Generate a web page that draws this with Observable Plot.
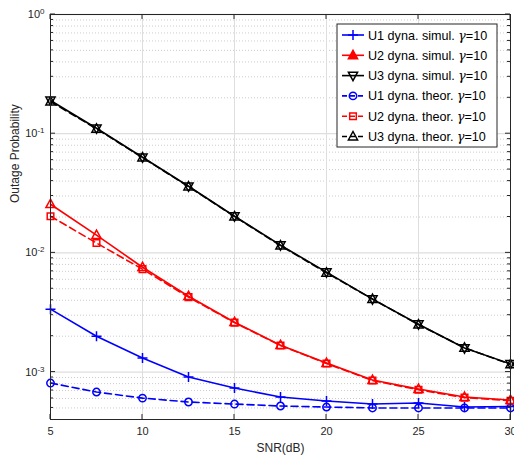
<!DOCTYPE html>
<html>
<head>
<meta charset="utf-8">
<script src="https://cdn.jsdelivr.net/npm/d3@7"></script>
<script src="https://cdn.jsdelivr.net/npm/@observablehq/plot@0.6"></script>
<style>
  html, body { margin: 0; padding: 0; background: #fff; }
  #chart svg { display: block; }
</style>
</head>
<body>
<div id="chart"></div>
<script>
// ---- data ----
const snr = [5, 7.5, 10, 12.5, 15, 17.5, 20, 22.5, 25, 27.5, 30];
const u1Simul = [0.00337, 0.00200, 0.00131, 0.000908, 0.000734, 0.000617, 0.000571, 0.000539, 0.00055, 0.000509, 0.000515];
const u2Simul = [0.0256, 0.0141, 0.00758, 0.00433, 0.00262, 0.00168, 0.00119, 0.000857, 0.000721, 0.000617, 0.000582];
const u3Simul = [0.190, 0.111, 0.0634, 0.0362, 0.0203, 0.0116, 0.00689, 0.00409, 0.00252, 0.00159, 0.00117];
const u1Theor = [0.000809, 0.000680, 0.000605, 0.000561, 0.000539, 0.000519, 0.000509, 0.000500, 0.000500, 0.000500, 0.000500];
const u2Theor = [0.0203, 0.0121, 0.00730, 0.00425, 0.00260, 0.00167, 0.00118, 0.00085, 0.00071, 0.00061, 0.000575];
const u3Theor = [0.186, 0.110, 0.0630, 0.0360, 0.0202, 0.0115, 0.0068, 0.0041, 0.0025, 0.0016, 0.00116];
const seriesNames = ["U1 dyna. simul. ", "U2 dyna. simul. ", "U3 dyna. simul. ", "U1 dyna. theor. ", "U2 dyna. theor. ", "U3 dyna. theor. "];
const legendSuffix = "=10";
const xTicks = [5, 10, 15, 20, 25, 30];
const yMajorTicks = [1e-3, 1e-2, 1e-1, 1];
const yDomain = [4e-4, 1];
const xLabel = "SNR(dB)";
const yLabel = "Outage Probability";

// ---- marker shapes ----
const rad = s => Math.sqrt(s / Math.PI);
const sym = {
  plus: {draw(c, s) { const r = rad(s); c.moveTo(-r, 0); c.lineTo(r, 0); c.moveTo(0, -r); c.lineTo(0, r); }},
  triUp: {draw(c, s) { const r = rad(s); c.moveTo(0, -r); c.lineTo(r * 0.92, r * 0.68); c.lineTo(-r * 0.92, r * 0.68); c.closePath(); }},
  triDown: {draw(c, s) { const r = rad(s); c.moveTo(0, r); c.lineTo(r * 0.92, -r * 0.68); c.lineTo(-r * 0.92, -r * 0.68); c.closePath(); }},
  circle: {draw(c, s) { const r = rad(s); c.moveTo(r, 0); c.arc(0, 0, r, 0, 2 * Math.PI); }},
  square: {draw(c, s) { const r = rad(s); c.moveTo(-r, -r); c.lineTo(r, -r); c.lineTo(r, r); c.lineTo(-r, r); c.closePath(); }}
};

const seriesValues = [u1Simul, u2Simul, u3Simul, u1Theor, u2Theor, u3Theor];
const styles = [
  {color: "#0000ff", dash: null, symbol: sym.plus, r: 5},
  {color: "#ff0000", dash: null, symbol: sym.triUp, r: 5},
  {color: "#000000", dash: null, symbol: sym.triDown, r: 5},
  {color: "#0000ff", dash: "7,4", symbol: sym.circle, r: 3.7},
  {color: "#ff0000", dash: "7,4", symbol: sym.square, r: 3.3},
  {color: "#000000", dash: "7,4", symbol: sym.triUp, r: 5}
];
const tables = seriesValues.map(vals => snr.map((x, i) => ({x, y: vals[i]})));

// minor grid values
const yMinor = [];
for (let e = -4; e <= -1; e++) for (let m = 2; m <= 9; m++) {
  const v = m * Math.pow(10, e);
  if (v > yDomain[0] * 1.0001 && v < yDomain[1]) yMinor.push(v);
}

const seriesMarks = [];
tables.forEach((t, i) => {
  const st = styles[i];
  seriesMarks.push(Plot.line(t, {x: "x", y: "y", stroke: st.color, strokeWidth: 1.6, strokeDasharray: st.dash}));
  seriesMarks.push(Plot.dot(t, {x: "x", y: "y", stroke: st.color, fill: "none", strokeWidth: 1.5, symbol: st.symbol, r: st.r}));
});

const chart = Plot.plot({
  width: 514, height: 457,
  marginLeft: 50, marginRight: 4, marginTop: 14, marginBottom: 38,
  style: {fontFamily: "'Liberation Sans', Arial, sans-serif", fontSize: "11px", color: "#262626", background: "#fff", overflow: "hidden"},
  x: {type: "linear", domain: [5, 30]},
  y: {type: "log", domain: yDomain},
  marks: [
    Plot.ruleY(yMinor, {stroke: "#bfbfbf", strokeDasharray: "1,2", strokeWidth: 0.8}),
    Plot.ruleY(yMajorTicks, {stroke: "#dedede", strokeWidth: 1.3}),
    Plot.ruleX(xTicks, {stroke: "#dedede", strokeWidth: 1}),
    Plot.axisX({ticks: xTicks, tickSize: 0, tickPadding: 8, label: null, fill: "#262626"}),
    Plot.axisY({ticks: yMajorTicks, tickSize: 0, tickPadding: 6, label: null, fill: "#262626",
      tickFormat: d => "10^" + Math.round(Math.log10(d))}),
    Plot.text([xLabel], {frameAnchor: "bottom", dy: 32, text: d => d, fill: "#262626", fontSize: 12}),
    Plot.text([yLabel], {frameAnchor: "left", dx: -35, dy: -14, rotate: -90, text: d => d, fill: "#262626", fontSize: 12}),
    ...seriesMarks,
    Plot.frame({stroke: "#262626", strokeWidth: 1})
  ]
});
document.getElementById("chart").appendChild(chart);

// ---- post-processing: superscript tick labels, inward ticks, legend ----
const svg = d3.select(chart);
svg.selectAll('g[aria-label="y-axis tick label"] text').each(function() {
  const t = d3.select(this);
  const s = t.text();
  const m = s.match(/^10\^(.*)$/);
  if (!m) return;
  t.text(null);
  t.append("tspan").text("10");
  t.append("tspan").attr("dy", "-0.5em").attr("font-size", "8px").text(m[1]);
});

const xs = chart.scale("x"), ys = chart.scale("y");
const X = v => xs.apply(v), Y = v => ys.apply(v);
const x0 = X(5), x1 = X(30), yTop = Y(yDomain[1]), yBot = Y(yDomain[0]);
const tg = svg.append("g").attr("stroke", "#262626").attr("stroke-width", 1);
yMajorTicks.forEach(v => {
  tg.append("line").attr("x1", x0).attr("x2", x0 + 5).attr("y1", Y(v)).attr("y2", Y(v));
  tg.append("line").attr("x1", x1).attr("x2", x1 - 5).attr("y1", Y(v)).attr("y2", Y(v));
});
yMinor.forEach(v => {
  tg.append("line").attr("x1", x0).attr("x2", x0 + 3).attr("y1", Y(v)).attr("y2", Y(v));
  tg.append("line").attr("x1", x1).attr("x2", x1 - 3).attr("y1", Y(v)).attr("y2", Y(v));
});
xTicks.forEach(v => {
  tg.append("line").attr("x1", X(v)).attr("x2", X(v)).attr("y1", yBot).attr("y2", yBot - 5);
  tg.append("line").attr("x1", X(v)).attr("x2", X(v)).attr("y1", yTop).attr("y2", yTop + 5);
});

// legend
const lgW = 160, lgH = 123;
const lgX = x1 - 13 - lgW, lgY = yTop + 10;
const lg = svg.append("g").attr("transform", `translate(${lgX},${lgY})`);
lg.append("rect").attr("width", lgW).attr("height", lgH).attr("fill", "#fff").attr("stroke", "#262626").attr("stroke-width", 1);
seriesNames.forEach((name, i) => {
  const st = styles[i];
  const ry = 11 + i * 20.3;
  const row = lg.append("g").attr("transform", `translate(0,${ry})`);
  row.append("line").attr("x1", 5).attr("x2", 27).attr("y1", 0).attr("y2", 0)
    .attr("stroke", st.color).attr("stroke-width", 1.6).attr("stroke-dasharray", st.dash ? "5,3" : null);
  row.append("path").attr("transform", "translate(16,0)")
    .attr("d", d3.symbol(st.symbol, st.r * st.r * Math.PI)())
    .attr("fill", i === 1 ? st.color : "none").attr("stroke", st.color).attr("stroke-width", 1.5);
  const tx = row.append("text").attr("x", 31).attr("y", 0).attr("dy", "0.36em")
    .attr("text-anchor", "start")
    .attr("font-family", "'Liberation Sans', Arial, sans-serif").attr("font-size", 12.6).attr("fill", "#000");
  tx.append("tspan").text(name);
  tx.append("tspan").attr("font-style", "italic").attr("font-family", "'DejaVu Serif', serif").text("γ");
  tx.append("tspan").text(legendSuffix);
});
</script>
</body>
</html>
